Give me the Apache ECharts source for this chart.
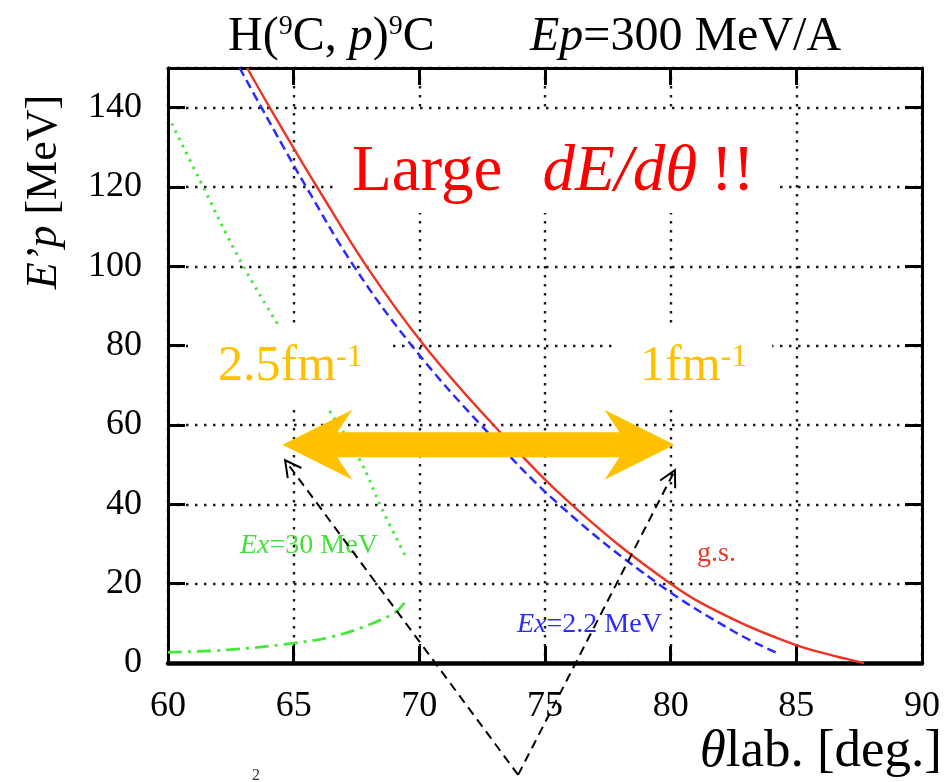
<!DOCTYPE html>
<html>
<head>
<meta charset="utf-8">
<script src="https://cdn.jsdelivr.net/npm/echarts@6/dist/echarts.min.js"></script>
<style>
  html, body { margin: 0; padding: 0; background: #fff; }
  #chart { width: 945px; height: 782px; }
</style>
</head>
<body>
<div id="chart"></div>
<script>
const SERIF = '"Liberation Serif", "DejaVu Serif", serif';

// Kinematics of H(9C,p)9C at 300 MeV/A: recoil-proton energy E'p [MeV] vs θlab [deg]
const gsTheta      = [63.15, 64.05, 64.98, 65.93, 67.9, 70.2, 72.95, 76.05, 80.0, 82.5, 85.0, 86.5, 87.7];
const gsEnergy     = [150, 140, 130, 120, 100, 80, 60, 40, 20, 11, 4.5, 1.8, 0];
const ex22Theta    = [62.85, 63.72, 64.6, 65.5, 67.4, 69.7, 72.45, 75.55, 79.5, 82.5, 84.3];
const ex22Energy   = [150, 140, 130, 120, 100, 80, 60, 40, 20, 8, 2.3];
const ex30HiTheta  = [60.15, 61.27, 62.87, 64.4, 66.37, 67.64, 68.5, 69.43];
const ex30HiEnergy = [136, 121.7, 101.5, 85, 64.2, 51.1, 39, 27.2];
const ex30LoTheta  = [60, 62.35, 65, 66.5, 67.64, 69.0, 69.43];
const ex30LoEnergy = [2.7, 3.3, 5.0, 6.6, 8.8, 12.6, 15.4];

// Axis ticks
const xTickLabels = [60, 65, 70, 75, 80, 85, 90];
const yTickLabels = [0, 20, 40, 60, 80, 100, 120, 140];
const yMax = 150;

// Momentum-transfer range arrow (2.5 fm^-1 … 1 fm^-1) and pointers, in data units
const qArrowEnds   = [[64.55, 55], [80.15, 55]];
const pointerBase  = [73.93, -28.2];
const pointerTips  = [[64.66, 51.1], [80.17, 48.6]];

const pairs = (xs, ys) => xs.map((x, i) => [x, ys[i]]);

const chart = echarts.init(document.getElementById('chart'), null, { renderer: 'canvas' });

const frameAxis = (pos) => ({
  type: 'value',
  position: pos,
  axisLine: { show: true, onZero: false, lineStyle: { color: '#000', width: 3 } },
  axisTick: { show: true, inside: true, length: 17, lineStyle: { color: '#000', width: 3 } },
  axisLabel: { show: false },
  splitLine: { show: false }
});

const gridDots = { show: true, lineStyle: { type: [2.5, 6.5], color: '#1a1a1a', width: 2.4 } };

chart.setOption({
  animation: false,
  grid: { left: 168, right: 23, top: 68, bottom: 119, containLabel: false },
  xAxis: [
    Object.assign(frameAxis('bottom'), {
      min: xTickLabels[0], max: xTickLabels[xTickLabels.length - 1], interval: 5,
      axisLine: { show: true, onZero: false, lineStyle: { color: '#000', width: 4.5 } },
      axisLabel: {
        show: true, fontFamily: SERIF, fontSize: 36, color: '#000', margin: 26,
        formatter: v => xTickLabels.includes(v) ? String(v) : ''
      },
      splitLine: gridDots
    }),
    Object.assign(frameAxis('top'), {
      min: xTickLabels[0], max: xTickLabels[xTickLabels.length - 1], interval: 5
    })
  ],
  yAxis: [
    Object.assign(frameAxis('left'), {
      min: 0, max: yMax, interval: 20,
      axisLabel: {
        show: true, fontFamily: SERIF, fontSize: 36, color: '#000', margin: 26,
        showMaxLabel: false,
        formatter: v => yTickLabels.includes(v) ? String(v) : ''
      },
      splitLine: gridDots
    }),
    Object.assign(frameAxis('right'), { min: 0, max: yMax, interval: 20 })
  ],
  series: [
    {
      name: 'g.s.', type: 'line', data: pairs(gsTheta, gsEnergy),
      smooth: 0.4, showSymbol: false, z: 3,
      lineStyle: { color: '#ee3322', width: 2.4 }
    },
    {
      name: 'Ex=2.2 MeV', type: 'line', data: pairs(ex22Theta, ex22Energy),
      smooth: 0.4, showSymbol: false, z: 3,
      lineStyle: { color: '#2b2bff', width: 2.5, type: [9, 5] }
    },
    {
      name: 'Ex=30 MeV (upper)', type: 'line', data: pairs(ex30HiTheta, ex30HiEnergy),
      smooth: 0.4, showSymbol: false, z: 3,
      lineStyle: { color: '#44e83a', width: 3, type: [2.5, 5.5] }
    },
    {
      name: 'Ex=30 MeV (lower)', type: 'line', data: pairs(ex30LoTheta, ex30LoEnergy),
      smooth: 0.4, showSymbol: false, z: 3,
      lineStyle: { color: '#44e83a', width: 2.8, type: [14, 6, 3, 6] }
    }
  ]
});

// Annotations placed from data coordinates
const px = p => chart.convertToPixel({ gridIndex: 0 }, p);

function openHead(tip, from, len, ang) {
  const dx = from[0] - tip[0], dy = from[1] - tip[1];
  const d = Math.hypot(dx, dy), ux = dx / d, uy = dy / d;
  const rot = a => [tip[0] + len * (ux * Math.cos(a) - uy * Math.sin(a)),
                    tip[1] + len * (ux * Math.sin(a) + uy * Math.cos(a))];
  return [rot(ang), tip, rot(-ang)];
}

function buildAnnotations() {
  const g = [];
  const a = px(qArrowEnds[0]), b = px(qArrowEnds[1]);
  const y = a[1];
  const H = 70, W = 35, N = 55, S = 12.5;
  g.push({
    type: 'polygon', z: 50,
    shape: { points: [
      [a[0], y], [a[0] + H, y - W], [a[0] + N, y - S], [b[0] - N, y - S], [b[0] - H, y - W],
      [b[0], y], [b[0] - H, y + W], [b[0] - N, y + S], [a[0] + N, y + S], [a[0] + H, y + W]
    ] },
    style: { fill: '#ffc000', stroke: null }
  });

  const base = px(pointerBase);
  pointerTips.forEach(t => {
    const tip = px(t);
    g.push({
      type: 'polyline', z: 60,
      shape: { points: [base, tip] },
      style: { stroke: '#000', lineWidth: 2, lineDash: [9, 6], fill: null }
    });
    g.push({
      type: 'polyline', z: 60,
      shape: { points: openHead(tip, base, 18, 0.49) },
      style: { stroke: '#000', lineWidth: 2, fill: null }
    });
  });

  const txt = (x, yy, text, rich, extra) => ({
    type: 'text', z: 40, x: x, y: yy,
    style: Object.assign({ text: text, rich: rich, align: 'left', verticalAlign: 'middle' }, extra || {})
  });

  // Title
  const tr = {
    r: { fontFamily: SERIF, fontSize: 48, fill: '#000' },
    i: { fontFamily: SERIF, fontSize: 48, fontStyle: 'italic', fill: '#000' },
    s: { fontFamily: SERIF, fontSize: 28, fill: '#000', verticalAlign: 'top' }
  };
  g.push(txt(228, 37, '{r|H(}{s|9}{r|C, }{i|p}{r|)}{s|9}{r|C}', tr, { lineHeight: 48 }));
  g.push(txt(530, 37, '{i|Ep}{r|=300 MeV/A}', tr, { lineHeight: 48 }));

  // Axis names
  const an = {
    r: { fontFamily: SERIF, fontSize: 44, fill: '#000' },
    i: { fontFamily: SERIF, fontSize: 44, fontStyle: 'italic', fill: '#000' }
  };
  g.push({
    type: 'text', z: 40, x: 44, y: 192, rotation: Math.PI / 2,
    style: { text: '{i|E’p}{r| [MeV]}', rich: an, align: 'center', verticalAlign: 'middle' }
  });
  const xn = {
    r: { fontFamily: SERIF, fontSize: 53, fill: '#000' },
    i: { fontFamily: SERIF, fontSize: 53, fontStyle: 'italic', fill: '#000' }
  };
  g.push(txt(942, 752, '{i|θ}{r|lab. [deg.]}', xn, { align: 'right' }));

  // Headline
  const lr = {
    n: { fontFamily: SERIF, fontSize: 65, lineHeight: 65, fill: '#ff0000' },
    i: { fontFamily: SERIF, fontSize: 65, lineHeight: 65, fontStyle: 'italic', fill: '#ff0000' },
    g1: { width: 40, lineHeight: 65 },
    g2: { width: 14, lineHeight: 65 }
  };
  g.push(txt(337, 163, '{n|Large}{g1|}{i|dE/dθ}{g2|}{n|!!}', lr,
    { backgroundColor: '#fff', padding: [27, 21, 8, 15] }));

  // Momentum-transfer labels
  const qr = {
    n: { fontFamily: SERIF, fontSize: 50, fill: '#ffc000' },
    s: { fontFamily: SERIF, fontSize: 32, fill: '#ffc000', verticalAlign: 'top' }
  };
  g.push(txt(188, 367, '{n|2.5fm}{s|-1}', qr,
    { backgroundColor: '#fff', padding: [18, 30, 18, 30], lineHeight: 50 }));
  g.push(txt(615, 367, '{n|1fm}{s|-1}', qr,
    { backgroundColor: '#fff', padding: [18, 25, 18, 25], lineHeight: 50 }));

  // Curve labels
  const cl = (color) => ({
    n: { fontFamily: SERIF, fontSize: 28, fill: color },
    i: { fontFamily: SERIF, fontSize: 28, fontStyle: 'italic', fill: color }
  });
  g.push(txt(240, 546, '{i|Ex}{n|=30 MeV}', cl('#44e03a')));
  g.push(txt(517, 625, '{i|Ex}{n|=2.2 MeV}', cl('#2b2bff')));
  g.push(txt(697, 554, '{n|g.s.}', cl('#ee3322')));

  // stray superscript glyph at the lower edge
  g.push(txt(252, 776, '{n|2}', { n: { fontFamily: SERIF, fontSize: 16, fill: '#333' } }));

  return g;
}

chart.setOption({ graphic: buildAnnotations() });
</script>
</body>
</html>
